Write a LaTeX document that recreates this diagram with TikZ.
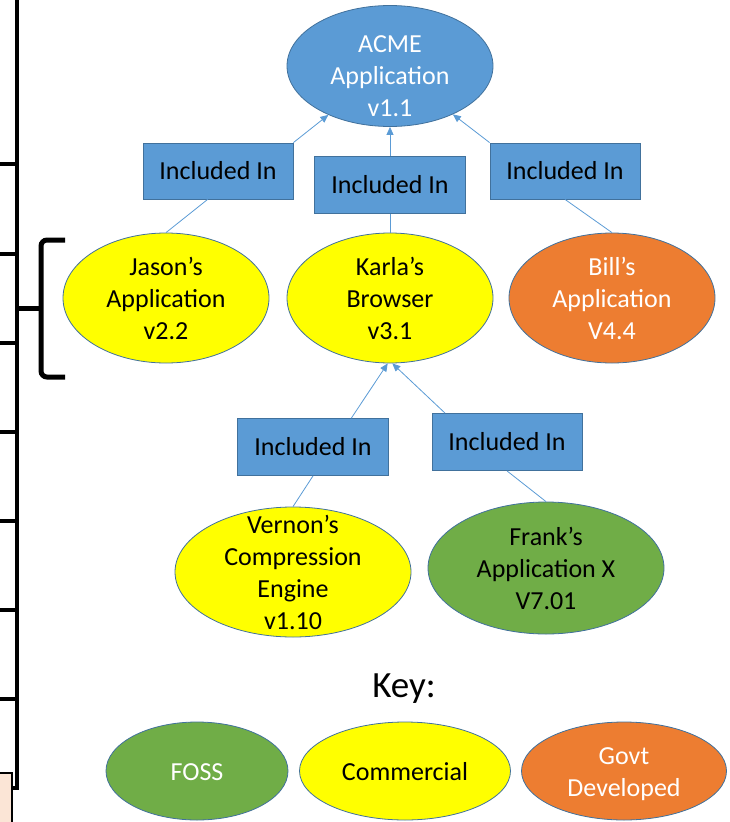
\documentclass[tikz,border=0pt]{standalone}
\usepackage{fontspec}
\setmainfont{Carlito}
\usetikzlibrary{shapes.geometric,arrows.meta}

\definecolor{accblue}{HTML}{5B9BD5}
\definecolor{edgeblue}{HTML}{41719C}
\definecolor{accyellow}{HTML}{FFFF00}
\definecolor{accorange}{HTML}{ED7D31}
\definecolor{accgreen}{HTML}{70AD47}
\definecolor{peach}{HTML}{FBE5D6}

% centred text that does not grow the oval
\newcommand{\ovaltext}[2][0pt]{\makebox[0pt]{\raisebox{\dimexpr-9pt-#1\relax}[0pt][0pt]{\begin{tabular}{@{}c@{}}#2\end{tabular}}}}

\tikzset{
  oval/.style={ellipse, draw=edgeblue, line width=0.8pt, inner sep=0pt,
    minimum width=206pt, minimum height=130pt, font=\fontsize{26}{32}\selectfont},
  incbox/.style={rectangle, draw=edgeblue, fill=accblue, line width=0.8pt, inner sep=0pt,
    minimum width=150pt, minimum height=56pt, font=\fontsize{26}{32}\selectfont},
  link/.style={draw=accblue, line width=0.8pt},
  linkarrow/.style={link, -{Triangle[length=8pt,width=7pt]}},
}

\begin{document}
\begin{tikzpicture}[x=1pt, y=-1pt]

\useasboundingbox (0,0) rectangle (730,822);

% Draw the ruler on the left edge
\draw[line width=4pt] (17,-3) -- (17,788) -- (12,788);
\foreach \ty in {164,254,343,432,521,610,699}
  \draw[line width=3.5pt] (-3,\ty) -- (17,\ty);

% Draw the bracket beside the ruler
\draw[line width=5pt, rounded corners=6pt] (65,240) -- (41,240) -- (41,377) -- (65,377);
\draw[line width=5pt] (17,308) -- (41,308);

% Draw the box in the bottom left corner
\draw[fill=peach, line width=2pt] (-5,773) rectangle (12,830);

% Top application
\node[oval, fill=accblue, text=white, minimum height=121pt] (acme) at (390,66)
  {\ovaltext[9pt]{ACME\\Application\\v1.1}};

% First row of "Included In" boxes
\node[incbox] (incA) at (218,171) {Included In};
\node[incbox, minimum width=151pt, minimum height=57pt] (incB) at (390,185) {Included In};
\node[incbox] (incC) at (565,171) {Included In};

% Second row of applications
\node[oval, fill=accyellow] (jason) at (166,298) {\ovaltext{Jason’s\\Application\\v2.2}};
\node[oval, fill=accyellow] (karla) at (390,298) {\ovaltext{Karla’s\\Browser\\v3.1}};
\node[oval, fill=accorange, text=white] (bill) at (612,298) {\ovaltext{Bill’s\\Application\\V4.4}};

% Second row of "Included In" boxes
\node[incbox, minimum width=151pt, minimum height=57pt] (incD) at (313,447) {Included In};
\node[incbox, minimum height=57pt] (incE) at (507,442) {Included In};

% Third row of applications
\node[oval, fill=accyellow, minimum width=236pt] (vernon) at (293,572)
  {\ovaltext{Vernon’s\\Compression\\Engine\\v1.10}};
\node[oval, fill=accgreen, minimum width=236pt, minimum height=132pt] (frank) at (546,568)
  {\ovaltext{Frank’s\\Application X\\V7.01}};

% Connectors up to the top application
\draw[linkarrow] (incA.north east) -- (acme);
\draw[linkarrow] (incB) -- (acme);
\draw[linkarrow] (incC.north west) -- (acme);
\draw[link] (jason.north) -- (incA.250);
\draw[link] (karla.north) -- (incB.south);
\draw[link] (bill.north) -- (incC.south);

% Connectors up to the browser
\draw[linkarrow] (incD.37) -- (karla.268);
\draw[linkarrow] (incE.155) -- (karla.272);
\draw[link] (vernon.north) -- (incD.south);
\draw[link] (frank.north) -- (incE.south);

% Key
\node[anchor=base, font=\fontsize{37}{44}\selectfont] (keytitle) at (404,697) {Key:};
\node[oval, fill=accgreen, text=white, minimum width=182pt, minimum height=98pt] (foss) at (197,771)
  {\ovaltext{FOSS}};
\node[oval, fill=accyellow, minimum width=211pt, minimum height=98pt] (commercial) at (405,771)
  {\ovaltext{Commercial}};
\node[oval, fill=accorange, text=white, minimum width=205pt, minimum height=98pt] (govt) at (624,771)
  {\ovaltext{Govt\\Developed}};

\end{tikzpicture}
\end{document}
